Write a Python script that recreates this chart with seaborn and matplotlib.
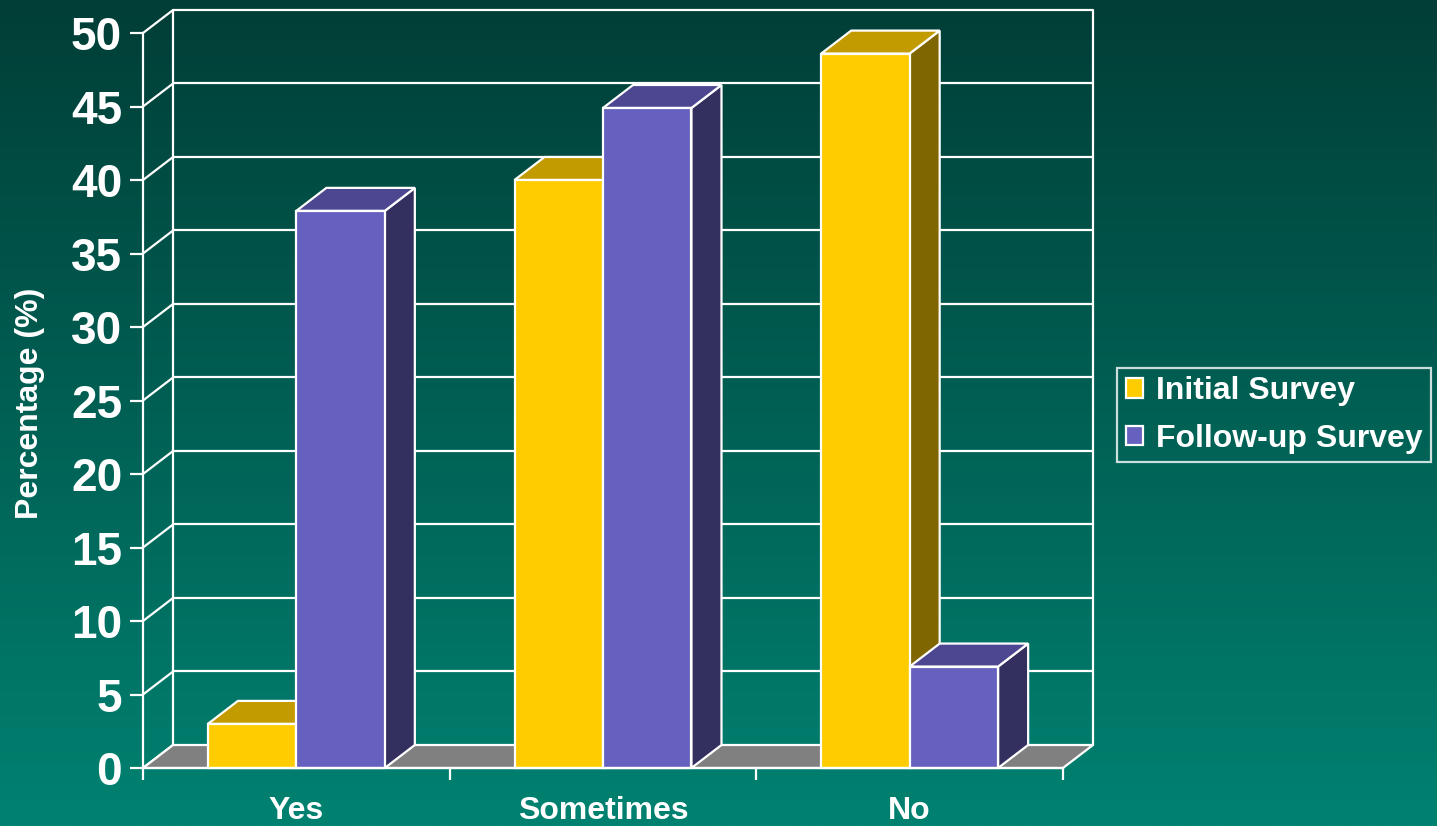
import numpy as np
import pandas as pd
import matplotlib
matplotlib.use("Agg")
import matplotlib.pyplot as plt
from matplotlib.patches import Polygon, Patch
import matplotlib.colors as mcolors
import seaborn as sns

# ---------------- data ----------------
categories = ["Yes", "Sometimes", "No"]
series_names = ["Initial Survey", "Follow-up Survey"]
initial_values = [3.0, 40.0, 48.6]
followup_values = [37.9, 44.9, 6.9]
y_ticks = [0, 5, 10, 15, 20, 25, 30, 35, 40, 45, 50]
y_label = "Percentage (%)"

# ---------------- style ----------------
front_colors = ["#FFCC00", "#6660BE"]
top_colors = ["#C29B00", "#4C4790"]
side_colors = ["#806600", "#33305F"]
floor_color = "#808080"
line_w = 1.6
W, H = 1437, 826
# 3D depth offset (in data units)
DX, DY = 0.098, 1.565

sns.set_theme(style="white")
plt.rcParams['font.family'] = ['Liberation Sans', 'DejaVu Sans']
plt.rcParams['font.weight'] = 'bold'

df = pd.DataFrame({
    "Response": categories * 2,
    "Survey": [series_names[0]] * 3 + [series_names[1]] * 3,
    "Percentage": initial_values + followup_values,
})

fig = plt.figure(figsize=(W / 100, H / 100), dpi=100)

# background gradient
bg = fig.add_axes([0, 0, 1, 1])
bg.set_axis_off()
top_rgb = np.array([1, 62, 55]) / 255
bot_rgb = np.array([0, 130, 113]) / 255
t = np.linspace(0, 1, 256)[:, None]
grad = top_rgb[None, :] * (1 - t) + bot_rgb[None, :] * t
grad = np.repeat(grad[:, None, :], 4, axis=1)
bg.imshow(grad, aspect='auto', extent=[0, 1, 0, 1], interpolation='bilinear')
bg.set_xlim(0, 1)
bg.set_ylim(0, 1)

ax = fig.add_axes([143 / W, 1 - 768 / H, (1093 - 143) / W, (768 - 10) / H])
ax.patch.set_alpha(0)

sns.barplot(data=df, x="Response", y="Percentage", hue="Survey",
            order=categories, hue_order=series_names, palette=front_colors,
            width=0.577, saturation=1, edgecolor="white", linewidth=line_w,
            legend=False, ax=ax)

ymax = max(y_ticks)
x_lo, x_hi = -0.5, len(categories) - 0.5
ax.set_xlim(x_lo, x_hi + DX)
ax.set_ylim(0, ymax + DY)
ax.set_xlabel("")
ax.set_ylabel("")

# 3D faces for bars
bars = sorted([p for p in ax.patches], key=lambda p: p.get_x())
fc_map = {mcolors.to_hex(c): i for i, c in enumerate(front_colors)}
for i, p in enumerate(bars):
    x0 = p.get_x()
    x1 = x0 + p.get_width()
    h = p.get_height()
    k = fc_map.get(mcolors.to_hex(p.get_facecolor()), 0)
    z = 3 + i * 0.1
    side = Polygon([(x1, 0), (x1 + DX, DY), (x1 + DX, h + DY), (x1, h)],
                   closed=True, facecolor=side_colors[k], edgecolor="white",
                   linewidth=line_w, zorder=z, clip_on=False, joinstyle='miter')
    top = Polygon([(x0, h), (x1, h), (x1 + DX, h + DY), (x0 + DX, h + DY)],
                  closed=True, facecolor=top_colors[k], edgecolor="white",
                  linewidth=line_w, zorder=z, clip_on=False, joinstyle='miter')
    ax.add_patch(side)
    ax.add_patch(top)
    p.set_zorder(z + 0.05)
    p.set_clip_on(False)

# back wall & left wall grid
for v in y_ticks:
    if v > 0:
        ax.plot([x_lo + DX, x_hi + DX], [v + DY, v + DY], color="white",
                lw=line_w, zorder=1, clip_on=False, solid_capstyle='butt')
    ax.plot([x_lo, x_lo + DX], [v, v + DY], color="white", lw=line_w,
            zorder=1, clip_on=False)
ax.plot([x_lo + DX, x_lo + DX], [DY, ymax + DY], color="white", lw=line_w,
        zorder=1, clip_on=False)
ax.plot([x_hi + DX, x_hi + DX], [DY, ymax + DY], color="white", lw=line_w,
        zorder=1, clip_on=False)

# floor
floor = Polygon([(x_lo, 0), (x_hi, 0), (x_hi + DX, DY), (x_lo + DX, DY)],
                closed=True, facecolor=floor_color, edgecolor="white",
                linewidth=line_w, zorder=2, clip_on=False)
ax.add_patch(floor)

# axes / ticks
for s in ["top", "right"]:
    ax.spines[s].set_visible(False)
ax.spines["left"].set_bounds(0, ymax)
ax.spines["bottom"].set_bounds(x_lo, x_hi)
for s in ["left", "bottom"]:
    ax.spines[s].set_color("white")
    ax.spines[s].set_linewidth(line_w)
    ax.spines[s].set_zorder(10)

ax.set_yticks(y_ticks)
ax.set_yticklabels([str(v) for v in y_ticks])
ax.tick_params(axis="y", left=True, length=9.4, width=line_w, color="white",
               pad=5.6, labelsize=33, labelcolor="white")
ax.set_xticks(np.arange(len(categories) + 1) - 0.5)
ax.set_xticklabels([])
ax.set_xticks(np.arange(len(categories)), minor=True)
ax.set_xticklabels(categories, minor=True)
ax.tick_params(axis="x", which="major", bottom=True, length=8.6, width=line_w,
               color="white")
ax.tick_params(axis="x", which="minor", bottom=True, length=0, pad=20,
               labelsize=23, labelcolor="white")
for lab in ax.get_yticklabels() + ax.get_xticklabels(minor=True):
    lab.set_fontweight("bold")

fig.text(30 / W, 1 - 403 / H, y_label, rotation=90, ha="center", va="center",
         color="white", fontsize=23, fontweight="bold")

handles = [Patch(facecolor=c, edgecolor="white", linewidth=line_w) for c in front_colors]
leg = fig.legend(handles, series_names, loc="center left",
                 bbox_to_anchor=(1117 / W, 1 - 415 / H), bbox_transform=fig.transFigure,
                 frameon=True, fancybox=False, facecolor="none", edgecolor="white",
                 prop={"size": 23, "weight": "bold"}, labelcolor="white",
                 handlelength=0.55, handleheight=0.55, handletextpad=0.4,
                 borderpad=0.27, labelspacing=0.55, borderaxespad=0)
leg.get_frame().set_linewidth(line_w)

fig.savefig("out.png", dpi=100)
